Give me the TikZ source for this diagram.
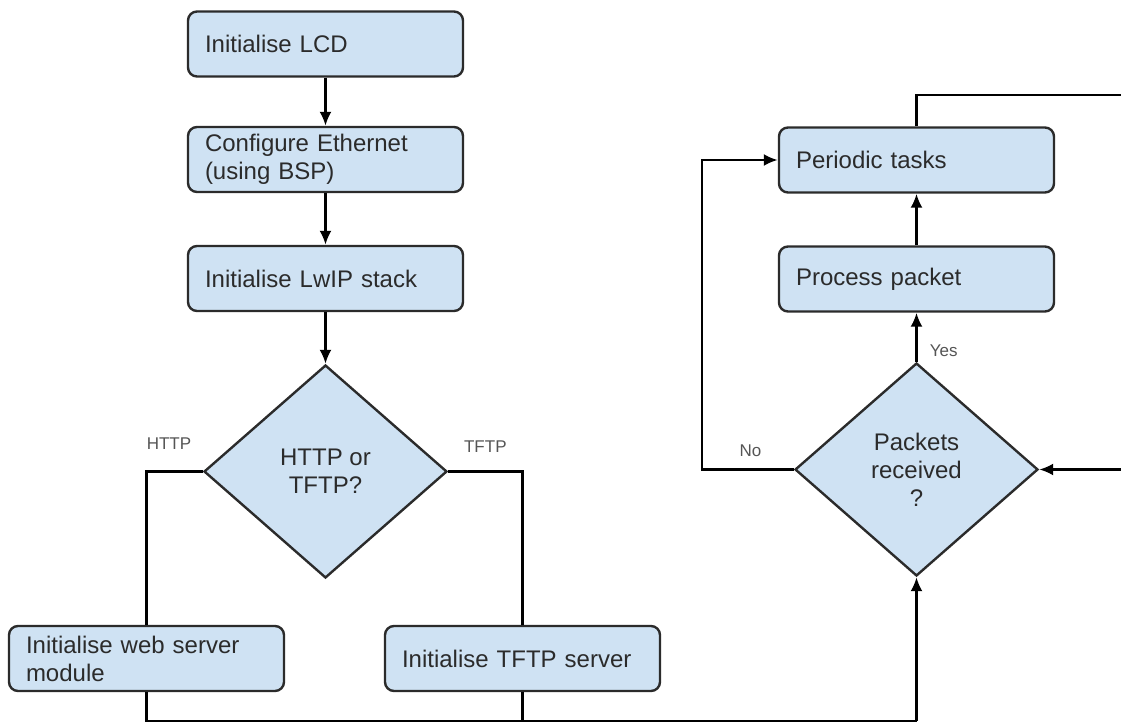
\documentclass[tikz,border=0pt]{standalone}
\usepackage{xcolor}
\usepackage{fontspec}
\setmainfont{Liberation Sans}
\usepackage{tikz}
\usetikzlibrary{shapes, arrows.meta, positioning}
\definecolor{boxblue}{HTML}{CFE2F3}
\definecolor{inkgray}{HTML}{2B2B2B}

\begin{document}
\begin{tikzpicture}[x=0.5pt, y=-0.5pt,
		every node/.style={font=\fontsize{12}{14}\selectfont, text=inkgray},
		task/.style={rectangle, draw=inkgray, fill=boxblue, line width=1.2pt, rounded corners=4.5pt, text width=120.5pt, inner xsep=8.5pt, inner ysep=0pt, minimum height=32.5pt, align=left},
		choice/.style={diamond, draw=inkgray, fill=boxblue, line width=1.2pt, minimum width=121.5pt, minimum height=106.5pt, inner sep=0pt, align=center},
		tag/.style={font=\fontsize{8.5}{10}\selectfont, text=inkgray!80},
		flow/.style={line width=1.2pt, -{Latex[length=7pt, width=6pt]}},
		wire/.style={line width=1.1pt}]
		\useasboundingbox (0,0) rectangle (1121,722);
		% start-up chain
		\node[task] (lcd) at (325.5,44) {Initialise LCD};
		\node[task] (eth) at (325.5,159.5) {Configure Ethernet\\(using BSP)};
		\node[task] (lwip) at (325.5,278.5) {Initialise LwIP stack};
		\node[choice] (proto) at (325.5,471.5) {HTTP or\\TFTP?};
		\node[task] (web) at (146.5,658.5) {Initialise web server\\module};
		\node[task] (tftp) at (522.5,658.5) {Initialise TFTP server};
		% main loop
		\node[choice] (rx) at (916.5,469.5) {Packets\\received\\?};
		\node[task] (proc) at (916.5,279) {Process packet};
		\node[task] (periodic) at (916.5,160) {Periodic tasks};
		\coordinate (topexit) at (1121,95);
		\coordinate (rightin) at (1121,469.5);
		\coordinate (bus) at (916.5,721);

		\draw[flow] (lcd) -- (eth);
		\draw[flow] (eth) -- (lwip);
		\draw[flow] (lwip) -- (proto);
		\draw[wire] (proto.west) -| node[tag, above=7pt, pos=0.3] {HTTP} (web.north);
		\draw[wire] (proto.east) -| node[tag, above=5.5pt, pos=0.25] {TFTP} (tftp.north);
		\draw[wire] (web.south) |- (bus);
		\draw[wire] (tftp.south) -- (tftp.south |- bus);
		\draw[flow] (bus) -- (rx.south);
		\draw[flow] (rx.north) -- node[tag, right=2.7pt, pos=0.23] {Yes} (proc.south);
		\draw[flow] (proc) -- (periodic);
		\draw[flow] (rx.west) -- node[tag, above=2.5pt, pos=0.47] {No} ++(-92,0) |- (periodic.west);
		\draw[wire] (periodic.north) |- (topexit);
		\draw[flow] (rightin) -- (rx.east);
		%%\draw[help lines] (0,0) grid (1121,722);
\end{tikzpicture}
\end{document}
